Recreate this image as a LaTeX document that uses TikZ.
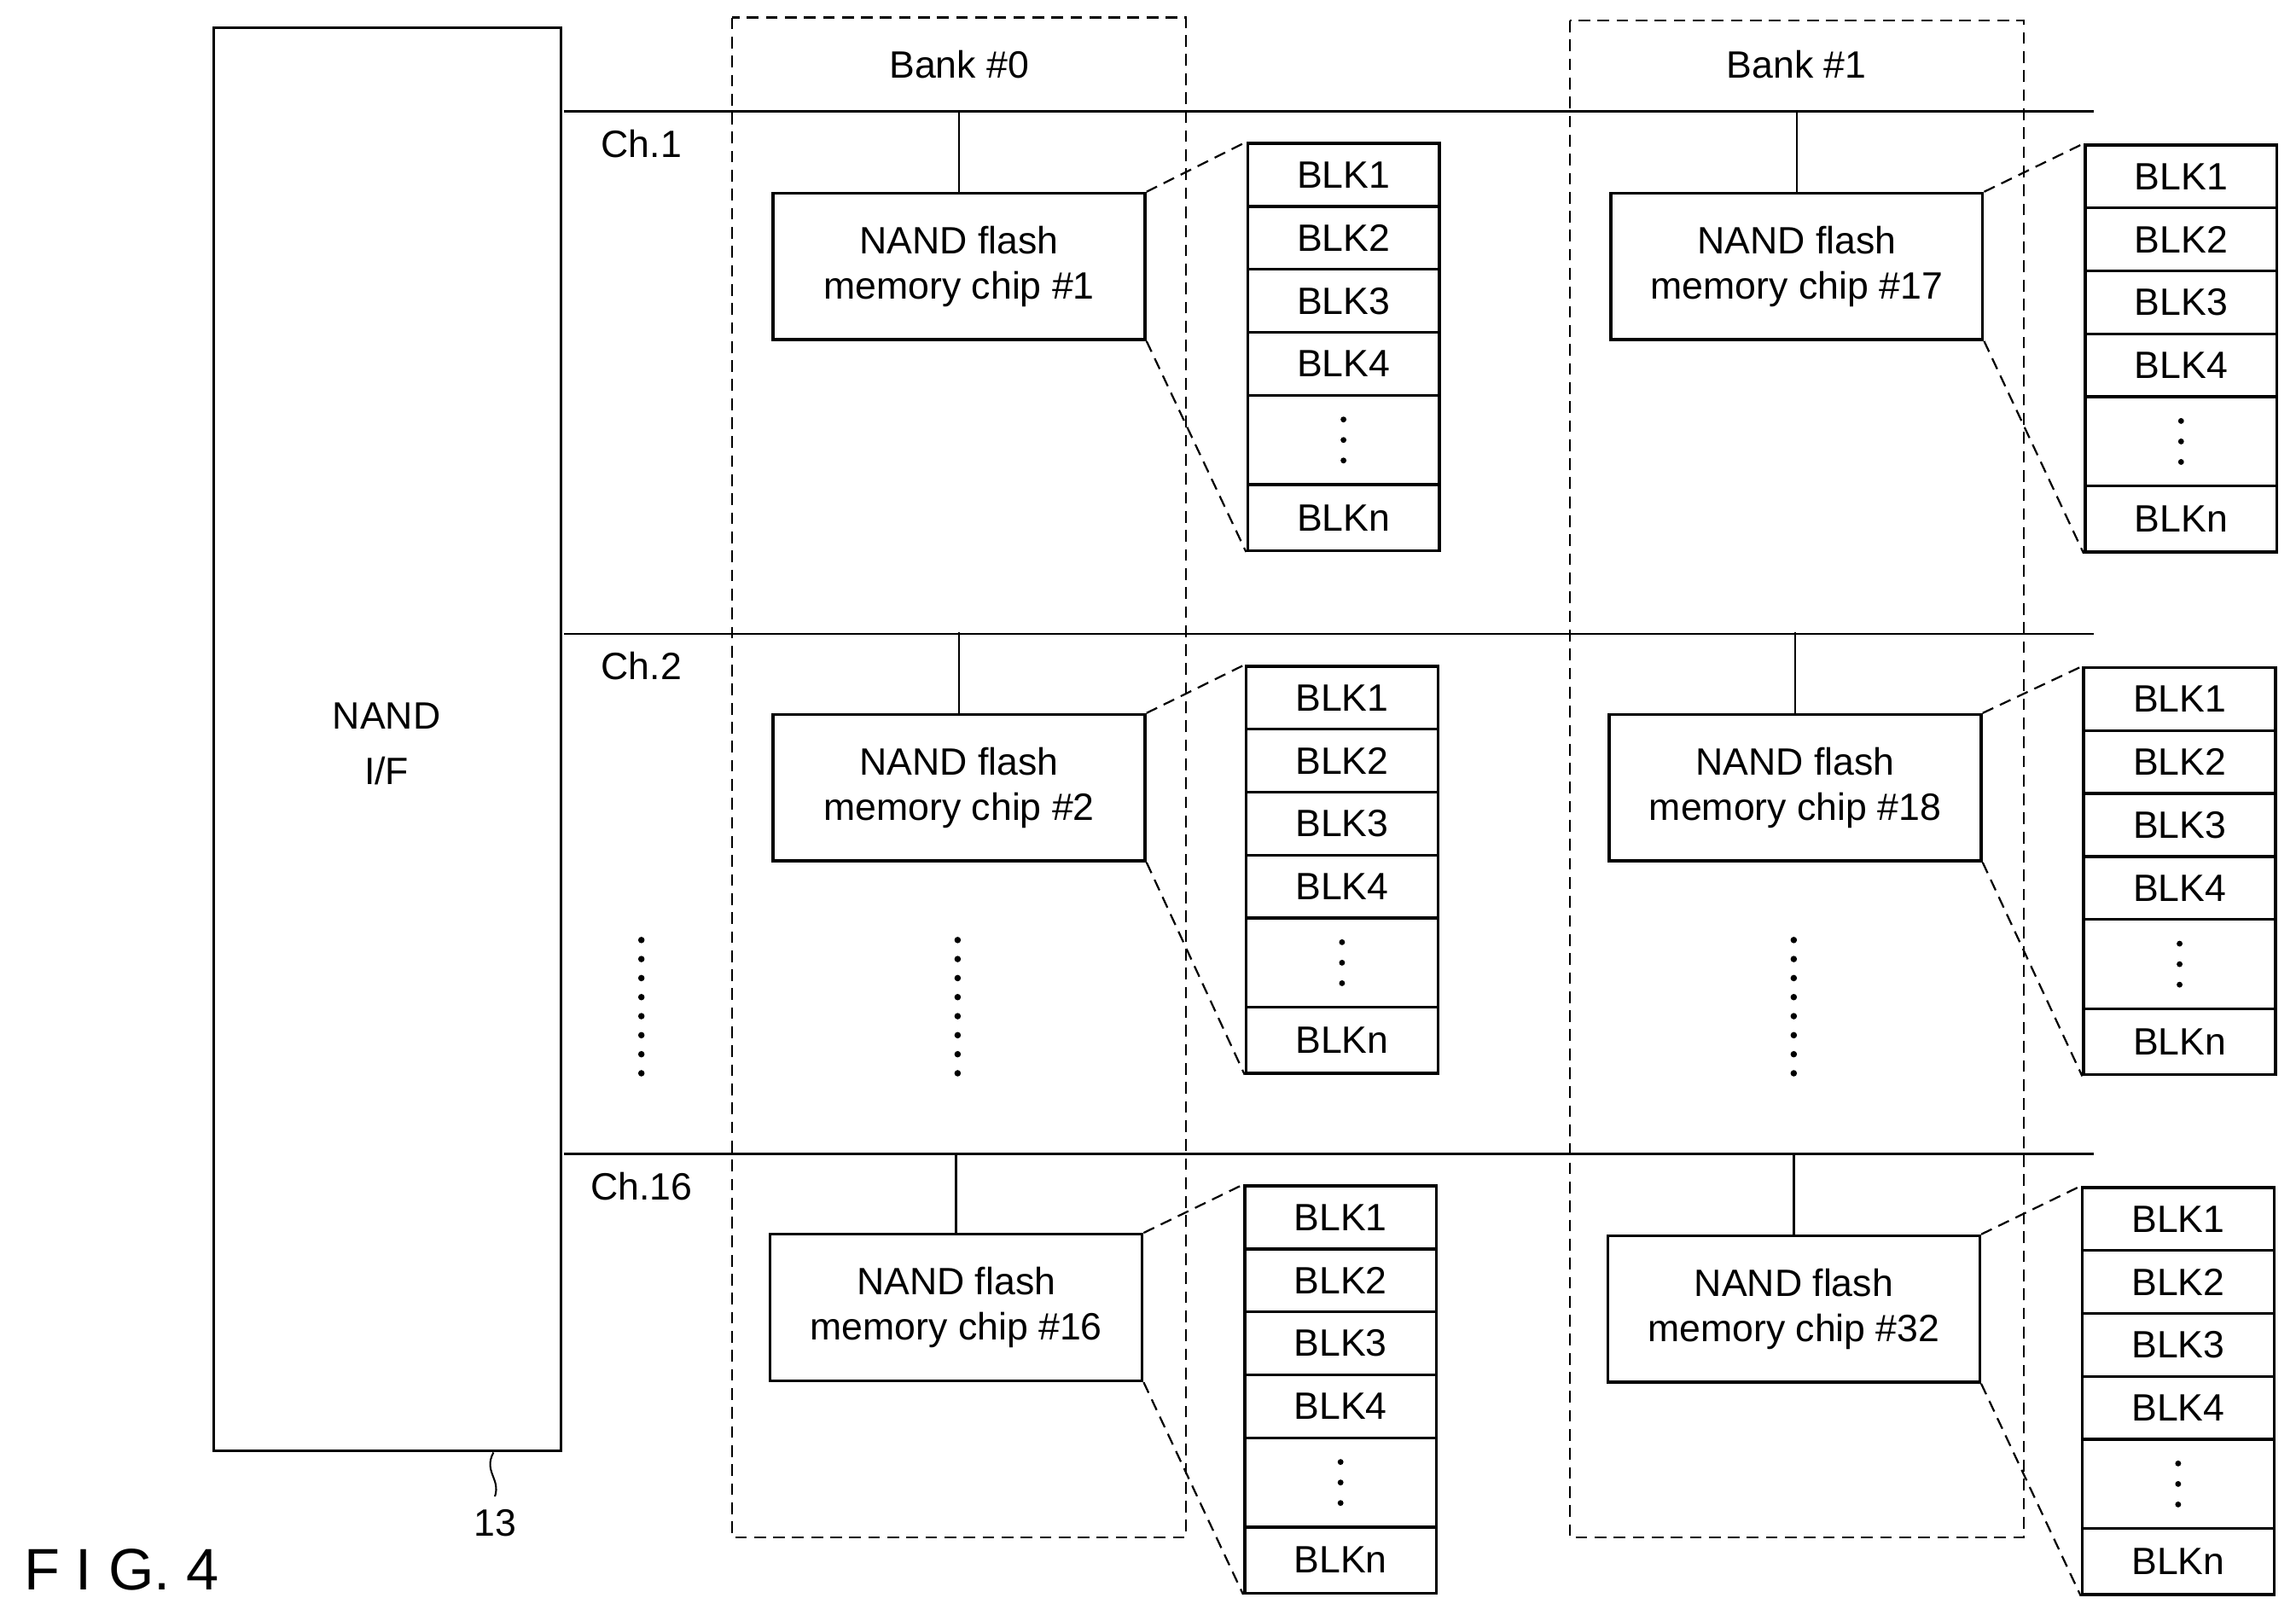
\documentclass[tikz,border=0pt]{standalone}
\usepackage{fontspec}
\setmainfont{Liberation Sans}
\begin{document}
\begin{tikzpicture}[x=1pt,y=-1pt,line width=2pt,
  txt/.style={font=\fontsize{26}{30}\selectfont},
  chip/.style={draw,minimum width=254pt,minimum height=100pt,align=center,font=\fontsize{26}{31}\selectfont,inner sep=0pt},
  blk/.style={draw,minimum width=131pt,minimum height=43pt,font=\fontsize{26}{30}\selectfont,inner sep=0pt,anchor=north west},
  dsh/.style={dash pattern=on 8pt off 5pt,line width=1.3pt},
  bank/.style={draw,dash pattern=on 8pt off 5pt,line width=1.3pt}]
\useasboundingbox (0,0) rectangle (1568,1107);
\node[draw,minimum width=237pt,minimum height=972pt,inner sep=0pt,anchor=north west] (nif) at (145,18) {};
\node[font=\fontsize{26}{38}\selectfont,align=center] (niftxt) at (264,508) {NAND\\I/F};
\node[txt] (l13) at (338,1040) {13};
\draw[line width=1.2pt] (337,992) .. controls (330,1005) and (342,1010) .. (338,1022);
\node[font=\fontsize{40}{46}\selectfont,anchor=west] (fig) at (12,1072) {F I G. 4};
\draw[bank] (500,12) rectangle (810,1050);
\draw[bank] (1072,14) rectangle (1382,1050);
\node[txt] (b0) at (655,44) {Bank \#0};
\node[txt] (b1) at (1227,44) {Bank \#1};
\foreach \y/\c in {76/1,433/2,788/16}{
  \draw[line width=1.5pt] (385,\y) -- (1430,\y);
  \node[txt] (ch\c) at (438,\y+22) {Ch.\c};
}
\foreach \cx/\cy/\n/\sx/\sy in {655/182/1/851/97, 655/538/2/850/454, 653/893/16/849/809,
  1227/182/17/1423/98, 1226/538/18/1422/455, 1225/894/32/1421/810}{
  \node[chip] (c\n) at (\cx,\cy) {NAND flash\\memory chip \#\n};
  \coordinate (t\n) at (\cx,\cy-106);
  \draw[line width=1.5pt] (t\n) -- (c\n.north);
  \node[blk] (s\n a) at (\sx,\sy) {BLK1};
  \node[blk] (s\n b) at (\sx,\sy+43) {BLK2};
  \node[blk] (s\n c) at (\sx,\sy+86) {BLK3};
  \node[blk] (s\n d) at (\sx,\sy+129) {BLK4};
  \node[blk,minimum height=61pt] (s\n e) at (\sx,\sy+172) {};
  \node[blk,minimum height=45pt] (s\n f) at (\sx,\sy+233) {BLKn};
  \foreach \k in {0,1,2}{\fill (s\n e.center) ++(0,-14+\k*14) circle (2pt);}
  \draw[dsh] (c\n.north east) -- (s\n a.north west);
  \draw[dsh] (c\n.south east) -- (s\n f.south west);
}
\foreach \x in {438,654,1225}{
  \foreach \k in {0,...,7}{\fill (\x,642+\k*13) circle (2.2pt);}
}
\end{tikzpicture}
\end{document}
